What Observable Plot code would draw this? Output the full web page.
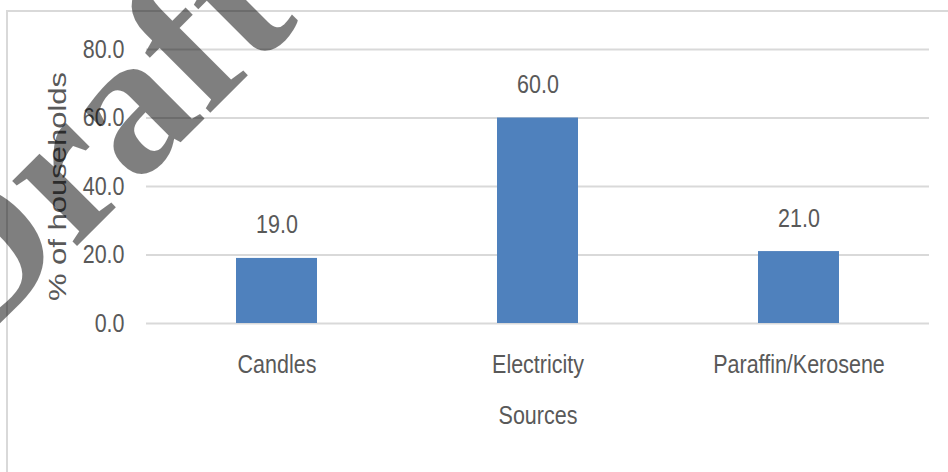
<!DOCTYPE html>
<html><head><meta charset="utf-8">
<script src="https://cdn.jsdelivr.net/npm/d3@7"></script>
<script src="https://cdn.jsdelivr.net/npm/@observablehq/plot@0.6"></script>
<style>
body{margin:0;background:#fff;}
#wrap{position:relative;width:948px;height:472px;overflow:hidden;background:#fff;}
#border{position:absolute;left:6px;top:10px;width:960px;height:480px;border-top:2px solid #d9d9d9;border-left:2px solid #d9d9d9;}
#wrap svg{position:absolute;left:0;top:0;}
</style></head><body><div id="wrap"><div id="border"></div></div>
<script>
const sources = ["Candles", "Electricity", "Paraffin/Kerosene"];
const shares = [19.0, 60.0, 21.0];
const yTicks = [0, 20, 40, 60, 80];
const xTitle = "Sources";
const yTitle = "% of households";
const watermark = "Draft";

const data = sources.map((s, i) => ({source: s, value: shares[i]}));
const font = '"Liberation Sans", Arial, sans-serif';

const chart = Plot.plot({
  width: 948, height: 472,
  marginLeft: 146, marginRight: 19, marginTop: 49, marginBottom: 149,
  style: {fontFamily: font, fontSize: "25px", color: "#595959", background: "transparent"},
  x: {domain: sources, paddingInner: 0.69, paddingOuter: 0.345},
  y: {domain: [0, 80]},
  marks: [
    Plot.gridY(yTicks, {stroke: "#d9d9d9", strokeOpacity: 1, strokeWidth: 2}),
    Plot.axisY(yTicks, {tickSize: 0, tickPadding: 22, tickFormat: d => d.toFixed(1), label: null, fill: "#595959"}),
    Plot.axisX({tickSize: 0, tickPadding: 32, label: null, fill: "#595959"}),
    Plot.barY(data, {x: "source", y: "value", fill: "#4f81bd"}),
    Plot.text(data, {x: "source", y: "value", text: d => d.value.toFixed(1), lineAnchor: "bottom", dy: -25, fill: "#595959"}),
    Plot.text([xTitle], {frameAnchor: "bottom", dy: 100, fill: "#595959"}),
    Plot.text([yTitle], {frameAnchor: "left", rotate: -90, dx: -88, textAnchor: "middle", fill: "#595959", fontSize: 31})
  ]
});

// narrow the glyphs like the reference's condensed lettering
d3.select(chart).selectAll("text").each(function() {
  const isTitle = this.textContent === yTitle;
  const x = this.getAttribute("x"), y = this.getAttribute("y");
  const nx = x != null && !isNaN(+x), ny = y != null && !isNaN(+y);
  const tf = this.getAttribute("transform") || "";
  const tx = nx ? +x : 0, ty = ny ? +y : 0;
  if (nx) this.removeAttribute("x");
  if (ny) this.removeAttribute("y");
  this.setAttribute("transform", `${tf} translate(${tx},${ty}) ${isTitle ? "scale(1,0.8)" : "scale(0.86,1)"}`);
});

const wrap = document.getElementById("wrap");
wrap.appendChild(chart);

// watermark overlay
const ns = "http://www.w3.org/2000/svg";
const wm = document.createElementNS(ns, "svg");
wm.setAttribute("width", 948); wm.setAttribute("height", 472);
const t = document.createElementNS(ns, "text");
t.textContent = watermark;
t.setAttribute("transform", "translate(-29,352) rotate(-45)");
t.setAttribute("font-family", "Liberation Serif, Times New Roman, serif");
t.setAttribute("font-weight", "bold");
t.setAttribute("font-size", 200);
t.setAttribute("fill", "rgba(0,0,0,0.5)");
wm.appendChild(t);
wrap.appendChild(wm);
</script>
</body></html>
